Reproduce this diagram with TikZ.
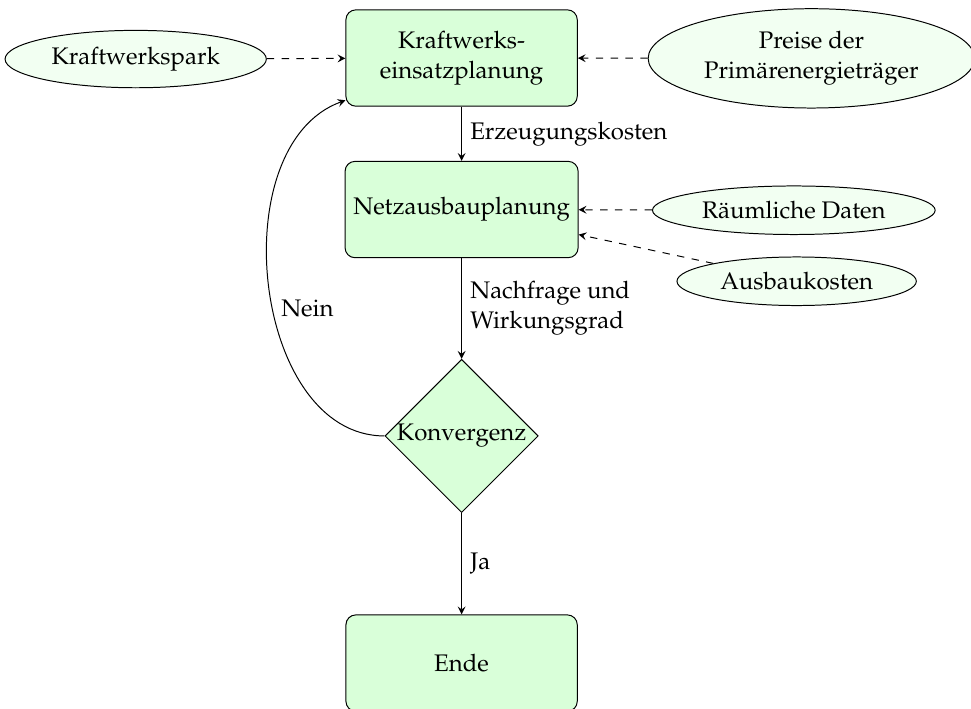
\documentclass[tikz,border=0pt]{standalone}
\usepackage[T1]{fontenc}
\usepackage{mathpazo}
\usetikzlibrary{shapes.geometric}

\tikzset{
  block/.style={rectangle, draw, fill=green!15, rounded corners, minimum width=3.29cm, minimum height=1.37cm, align=center},
  entscheidung/.style={diamond, draw, fill=green!15, minimum size=2.18cm, inner sep=0pt},
  eingabe/.style={ellipse, draw, fill=green!5, align=center},
  pfeil/.style={draw, ->, >=stealth},
  datenpfeil/.style={draw, dashed, ->, >=stealth}
}

\begin{document}
\begin{tikzpicture}[font=\fontsize{9.7}{12}\selectfont]
\useasboundingbox (0,0) rectangle (13.81,-10.07);

% Bloecke
\node[block] (kwe) at (6.565,-0.825) {Kraftwerks-\\einsatzplanung};
\node[block] (netz) at (6.565,-2.98) {Netzausbauplanung};
\node[entscheidung] (konv) at (6.565,-6.20) {Konvergenz};
\node[block] (ende) at (6.565,-9.43) {Ende};

% Eingangsdaten
\node[eingabe] (park) at (1.93,-0.84) {Kraftwerkspark};
\node[eingabe] (preise) at (11.54,-0.83) {Preise der\\Primärenergieträger};
\node[eingabe] (raum) at (11.29,-2.99) {Räumliche Daten};
\node[eingabe] (ausbau) at (11.33,-4.00) {Ausbaukosten};

% Ablauf
\path[pfeil] (kwe) -- node[right] {Erzeugungskosten} (netz);
\path[pfeil] (netz) -- node[right, align=left] {Nachfrage und\\Wirkungsgrad} (konv);
\path[pfeil] (konv) -- node[right] {Ja} (ende);
\path[pfeil] (konv.west) to[out=180, in=200] node[pos=0.45, right] {Nein} (kwe);

% Daten
\path[datenpfeil] (park) -- (kwe);
\path[datenpfeil] (preise) -- (kwe);
\path[datenpfeil] (raum) -- (netz);
\path[datenpfeil] (ausbau) -- (netz);
\end{tikzpicture}
\end{document}
